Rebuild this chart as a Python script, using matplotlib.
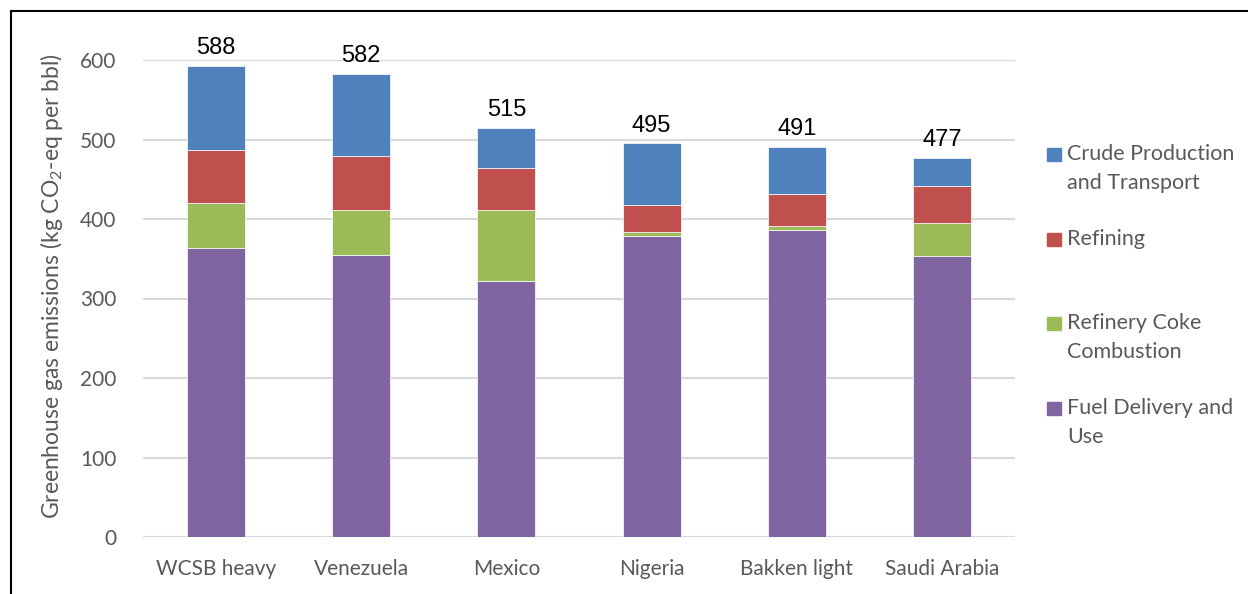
import matplotlib
matplotlib.use("Agg")
import matplotlib.pyplot as plt
import numpy as np
from matplotlib.lines import Line2D
from matplotlib.patches import Rectangle

# 数据
categories = ["WCSB heavy", "Venezuela", "Mexico", "Nigeria", "Bakken light", "Saudi Arabia"]
fuel_delivery = [363, 355, 322, 379, 386, 353]
coke_combustion = [57, 56, 89, 5, 5, 42]
refining = [67, 68, 53, 33, 40, 47]
crude_production = [105, 103, 51, 78, 60, 35]
totals = [588, 582, 515, 495, 491, 477]

series_names = ["Fuel Delivery and\nUse", "Refinery Coke\nCombustion", "Refining",
                "Crude Production\nand Transport"]
series_colors = ["#8064A2", "#9BBB59", "#C0504D", "#4F81BD"]

plt.rcParams['font.family'] = ['Lato', 'DejaVu Sans']
plt.rcParams['mathtext.fontset'] = 'custom'
plt.rcParams['mathtext.rm'] = 'Lato'
plt.rcParams['mathtext.it'] = 'Lato:italic'

W, H = 1248, 594
fig = plt.figure(figsize=(W / 100, H / 100), dpi=100)
ax = fig.add_axes([143 / W, 1 - 537 / H, (1015 - 143) / W, (537 - 60) / H])

x = np.arange(len(categories))
bottom = np.zeros(len(categories))
for vals, color in zip([fuel_delivery, coke_combustion, refining, crude_production], series_colors):
    ax.bar(x, vals, width=0.4, bottom=bottom, color=color, edgecolor="#FFFFFF", linewidth=0.5, zorder=3)
    bottom += np.array(vals)

# 总量标签
for xi, top, lab in zip(x, bottom, totals):
    ax.annotate(str(lab), (xi, top), xytext=(0, 5), textcoords="offset points",
                ha="center", va="bottom", fontsize=17, family="Liberation Sans",
                color="black", annotation_clip=False)

ax.set_xlim(-0.5, len(categories) - 0.5)
ax.set_ylim(0, 600)
ax.set_yticks(range(0, 601, 100))
ax.set_xticks(x)
ax.set_xticklabels(categories)
ax.tick_params(axis="both", length=0, labelsize=15, labelcolor="#595959")
ax.tick_params(axis="y", pad=19)
ax.tick_params(axis="x", pad=16)
ax.grid(axis="y", color="#D9D9D9", linewidth=1.5, zorder=0)
for s in ax.spines.values():
    s.set_visible(False)
ax.set_ylabel("Greenhouse gas emissions (kg CO$_2$-eq per bbl)", fontsize=16.5, color="#595959")
ax.yaxis.set_label_coords(-0.09, 0.526)

# 图例（手动放置）
legend_rows = [154, 239, 323, 408]
for name, color, yy in zip(series_names[::-1], series_colors[::-1], legend_rows):
    fig.patches.append(Rectangle((1047 / W, 1 - (yy + 7) / H), 14 / W, 13 / H,
                                 transform=fig.transFigure, color=color))
    for i, line in enumerate(name.split("\n")):
        fig.text(1067 / W, 1 - (yy + i * 29) / H, line, fontsize=15.5, color="#595959",
                 ha="left", va="center")

# 外框（上、左）
fig.add_artist(Line2D([11 / W, 1], [1 - 11 / H, 1 - 11 / H], color="black", linewidth=1.5,
                      transform=fig.transFigure))
fig.add_artist(Line2D([11 / W, 11 / W], [0, 1 - 11 / H], color="black", linewidth=1.5,
                      transform=fig.transFigure))

fig.savefig("out.png", dpi=100)
